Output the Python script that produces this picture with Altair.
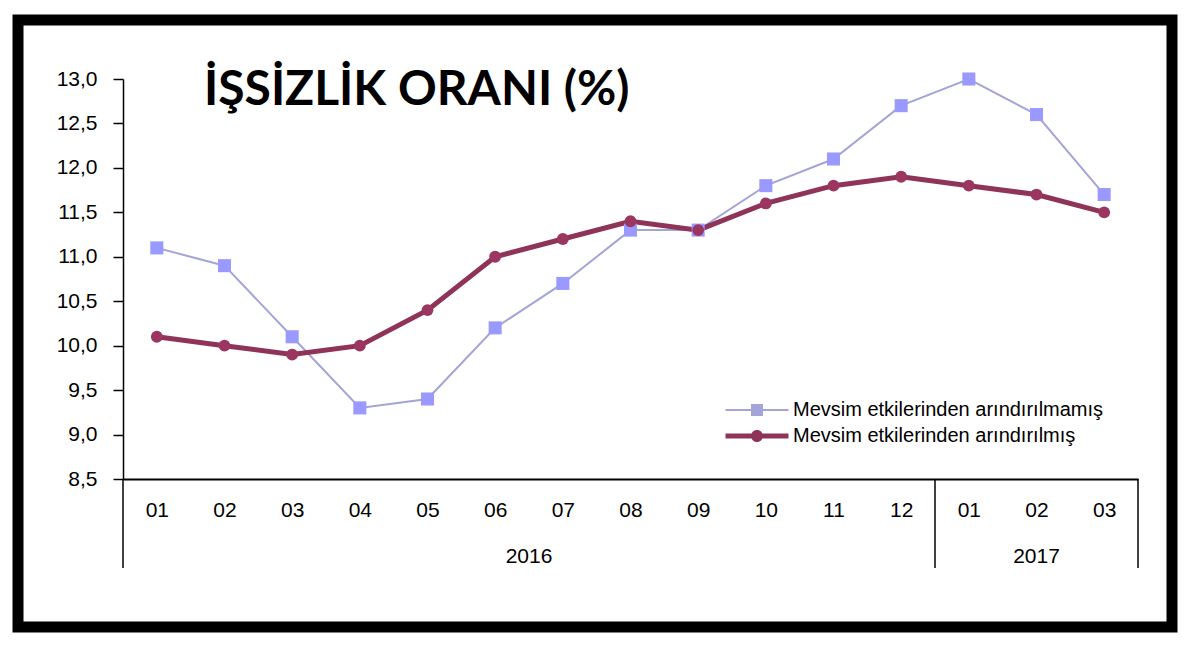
"""Unemployment rate chart, raw vs seasonally adjusted"""

import altair as alt
import pandas as pd

months = ["01", "02", "03", "04", "05", "06", "07", "08", "09", "10", "11", "12",
          "01", "02", "03"]
years = ["2016", "2017"]
year_centers = [6, 13.5]
year_breaks = [0, 12, 15]

raw_name = "Mevsim etkilerinden arındırılmamış"
adj_name = "Mevsim etkilerinden arındırılmış"

raw_values = [11.1, 10.9, 10.1, 9.3, 9.4, 10.2, 10.7, 11.3, 11.3, 11.8, 12.1, 12.7,
              13.0, 12.6, 11.7]
adj_values = [10.1, 10.0, 9.9, 10.0, 10.4, 11.0, 11.2, 11.4, 11.3, 11.6, 11.8, 11.9,
              11.8, 11.7, 11.5]

y_ticks = [8.5, 9.0, 9.5, 10.0, 10.5, 11.0, 11.5, 12.0, 12.5, 13.0]

W, H = 1015, 400

rows = []
for i, v in enumerate(raw_values):
    rows.append({"pos": i + 0.5, "value": v, "series": raw_name})
for i, v in enumerate(adj_values):
    rows.append({"pos": i + 0.5, "value": v, "series": adj_name})
df = pd.DataFrame(rows)

series_domain = [raw_name, adj_name]
month_expr = "[" + ",".join(f"'{m}'" for m in months) + "][floor(datum.value)]"

# legend symbols: line sample with its marker in the middle
# (path units are half the symbol's side, here 10px)
raw_path = "M-3.15,-0.1H3.15V0.1H-3.15Z M-0.6,-0.6H0.6V0.6H-0.6Z"
adj_path = ("M-3.15,-0.25H3.15V0.25H-3.15Z "
            "M-0.6,0A0.6,0.6 0 1,1 0.6,0A0.6,0.6 0 1,1 -0.6,0Z")

x_enc = alt.X(
    "pos:Q",
    scale=alt.Scale(domain=[0, 15], nice=False, zero=False),
    axis=alt.Axis(
        values=[i + 0.5 for i in range(15)], labelExpr=month_expr, title=None,
        grid=False, ticks=False, domainColor="black", domainWidth=2,
        labelFont="Liberation Sans", labelFontSize=21, labelColor="black",
        labelPadding=20,
    ),
)
y_enc = alt.Y(
    "value:Q",
    scale=alt.Scale(domain=[8.5, 13.0], nice=False, zero=False),
    axis=alt.Axis(
        values=y_ticks, labelExpr="replace(format(datum.value, '.1f'), '.', ',')",
        title=None, grid=False, tickSize=10, tickColor="black", tickWidth=1.5,
        domainColor="black", domainWidth=1.5, labelFont="Liberation Sans",
        labelFontSize=21, labelColor="black", labelPadding=16,
    ),
)

base = alt.Chart(df).encode(x=x_enc, y=y_enc)
raw = base.transform_filter(alt.datum.series == raw_name)
adj = base.transform_filter(alt.datum.series == adj_name)

raw_line = raw.mark_line(color="#A4A4D8", strokeWidth=2)
raw_pts = raw.mark_square(color="#9999FF", size=170, opacity=1)
adj_line = adj.mark_line(color="#8F3359", strokeWidth=5)
adj_pts = adj.mark_circle(color="#9B3660", size=140, opacity=1)

legend = alt.Legend(
    orient="none", legendX=624, legendY=321, title=None,
    labelFont="Liberation Sans", labelFontSize=20, labelColor="black",
    labelLimit=0, symbolSize=400, symbolStrokeWidth=0, symbolOpacity=1,
    rowPadding=6, padding=0, labelOffset=26,
)
legend_layer = base.transform_filter("false").mark_point(filled=True).encode(
    shape=alt.Shape(
        "series:N", scale=alt.Scale(domain=series_domain, range=[raw_path, adj_path]),
        legend=legend,
    ),
    fill=alt.Fill(
        "series:N", scale=alt.Scale(domain=series_domain, range=["#A4A4D8", "#8F3359"]),
        legend=legend,
    ),
)

breaks = alt.Chart(pd.DataFrame({"pos": year_breaks})).mark_rule(
    color="black", strokeWidth=1.5
).encode(x="pos:Q", y=alt.value(H), y2=alt.value(H + 89))

year_labels = alt.Chart(pd.DataFrame({"pos": year_centers, "year": years})).mark_text(
    font="Liberation Sans", fontSize=21, color="black", baseline="middle"
).encode(x="pos:Q", y=alt.value(H + 78), text="year:N")

frame = alt.Chart(pd.DataFrame({"a": [0]})).mark_rect(
    fill="transparent", stroke="black", strokeWidth=11
).encode(
    x=alt.value(-105), x2=alt.value(1049), y=alt.value(-59), y2=alt.value(548)
)

chart = alt.layer(
    frame, breaks, year_labels, raw_line, adj_line, raw_pts, adj_pts, legend_layer
).properties(
    width=W,
    height=H,
    title=alt.Title(
        "İŞSİZLİK ORANI (%)", anchor="start", frame="group", dx=81, dy=138,
        offset=0, baseline="alphabetic", font="Lato", fontSize=48,
        fontWeight="bold", color="black",
    ),
    autosize=alt.AutoSizeParams(type="none"),
    padding={"left": 115, "top": 71, "right": 54, "bottom": 165},
).configure_view(stroke=None)

chart.save("out.html", embed_options={"renderer": "svg", "actions": False})
